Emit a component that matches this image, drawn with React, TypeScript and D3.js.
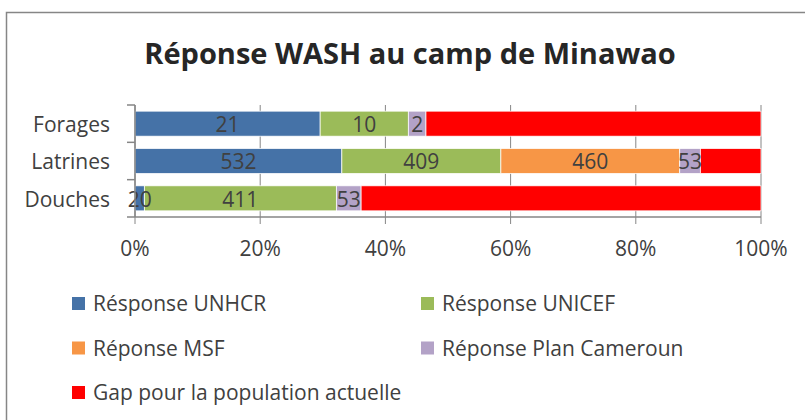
import React from 'react';
import * as d3 from 'd3';

const categories = ['Forages', 'Latrines', 'Douches'];
const seriesNames = [
  'Résponse UNHCR',
  'Résponse UNICEF',
  'Réponse MSF',
  'Réponse Plan Cameroun',
  'Gap pour la population actuelle',
];
const unhcr = [21, 532, 20];
const unicef = [10, 409, 411];
const msf = [0, 460, 0];
const planCameroun = [2, 53, 53];
const gap = [38, 156, 856];
const xTicks = [0, 0.2, 0.4, 0.6, 0.8, 1];

const colors = ['#4572A7', '#9BBB59', '#F79646', '#B3A2C7', '#FF0000'];
const font = '"Open Sans", sans-serif';
const textColor = '#404040';
const gridColor = '#868686';

const App = () => {
  const width = 805;
  const height = 420;

  const rows = categories.map((c, i) => ({
    category: c,
    [seriesNames[0]]: unhcr[i],
    [seriesNames[1]]: unicef[i],
    [seriesNames[2]]: msf[i],
    [seriesNames[3]]: planCameroun[i],
    [seriesNames[4]]: gap[i],
  }));

  const stacked = d3
    .stack<any>()
    .keys(seriesNames)
    .offset(d3.stackOffsetExpand)(rows);

  const x = d3.scaleLinear().domain([0, 1]).range([135, 761]);
  const y = d3
    .scaleBand()
    .domain(categories)
    .range([105, 217])
    .paddingInner(0.33)
    .paddingOuter(0.165);

  const cell = d3.scaleBand().domain(categories).range([105, 217]);
  const fmt = d3.format('.0%');

  return (
    <svg
      width={width}
      height={height}
      style={{ position: 'absolute', left: 0, top: 0, background: '#fff' }}
      fontFamily={font}
    >
      <rect x={6.5} y={12.5} width={820} height={430} fill="#fff" stroke={gridColor} strokeWidth={1.5} />

      <text x={410} y={64} textAnchor="middle" fontSize={29} fontWeight="bold" fill="#262626">
        Réponse WASH au camp de Minawao
      </text>

      {/* gridlines */}
      {xTicks.map((t) => (
        <line key={'g' + t} x1={x(t)} x2={x(t)} y1={105} y2={224} stroke={gridColor} strokeWidth={1} />
      ))}

      {/* bars */}
      {stacked.map((s, si) => (
        <g key={s.key} fill={colors[si]}>
          {s.map((d, i) => (
            <rect
              key={i}
              x={x(d[0])}
              y={y(categories[i])}
              width={Math.max(0, x(d[1]) - x(d[0]))}
              height={y.bandwidth()}
              stroke="#fff"
              strokeWidth={0.75}
            />
          ))}
        </g>
      ))}

      {/* data labels */}
      {stacked.slice(0, 4).map((s, si) =>
        s.map((d, i) => {
          const v = (d.data as any)[s.key];
          if (!v) return null;
          return (
            <text
              key={s.key + i}
              x={(x(d[0]) + x(d[1])) / 2}
              y={(y(categories[i]) as number) + y.bandwidth() / 2}
              dy="0.4em"
              textAnchor="middle"
              fontSize={21}
              fill={textColor}
            >
              {v}
            </text>
          );
        })
      )}

      {/* y axis */}
      <line x1={135} x2={135} y1={105} y2={217} stroke={gridColor} strokeWidth={1.5} />
      {[...categories.map((c) => cell(c) as number), 217].map((v, i) => (
        <line key={'yt' + i} x1={127} x2={135} y1={v} y2={v} stroke={gridColor} strokeWidth={1.5} />
      ))}
      {categories.map((c) => (
        <text
          key={c}
          x={110}
          y={(y(c) as number) + y.bandwidth() / 2}
          dy="0.4em"
          textAnchor="end"
          fontSize={21}
          fill={textColor}
        >
          {c}
        </text>
      ))}

      {/* x axis */}
      <line x1={135} x2={761} y1={217} y2={217} stroke={gridColor} strokeWidth={1.5} />
      {xTicks.map((t) => (
        <text key={'xl' + t} x={x(t)} y={256} textAnchor="middle" fontSize={21} fill={textColor}>
          {fmt(t)}
        </text>
      ))}

      {/* legend */}
      {seriesNames.map((name, i) => {
        const col = i % 2;
        const row = Math.floor(i / 2);
        const lx = col === 0 ? 72 : 421;
        const ly = 303.5 + row * 44.5;
        return (
          <g key={name}>
            <rect x={lx} y={ly - 6.5} width={13} height={13} fill={colors[i]} />
            <text x={lx + 21} y={ly} dy="0.36em" fontSize={21} fill={textColor}>
              {name}
            </text>
          </g>
        );
      })}
    </svg>
  );
};

export default App;
